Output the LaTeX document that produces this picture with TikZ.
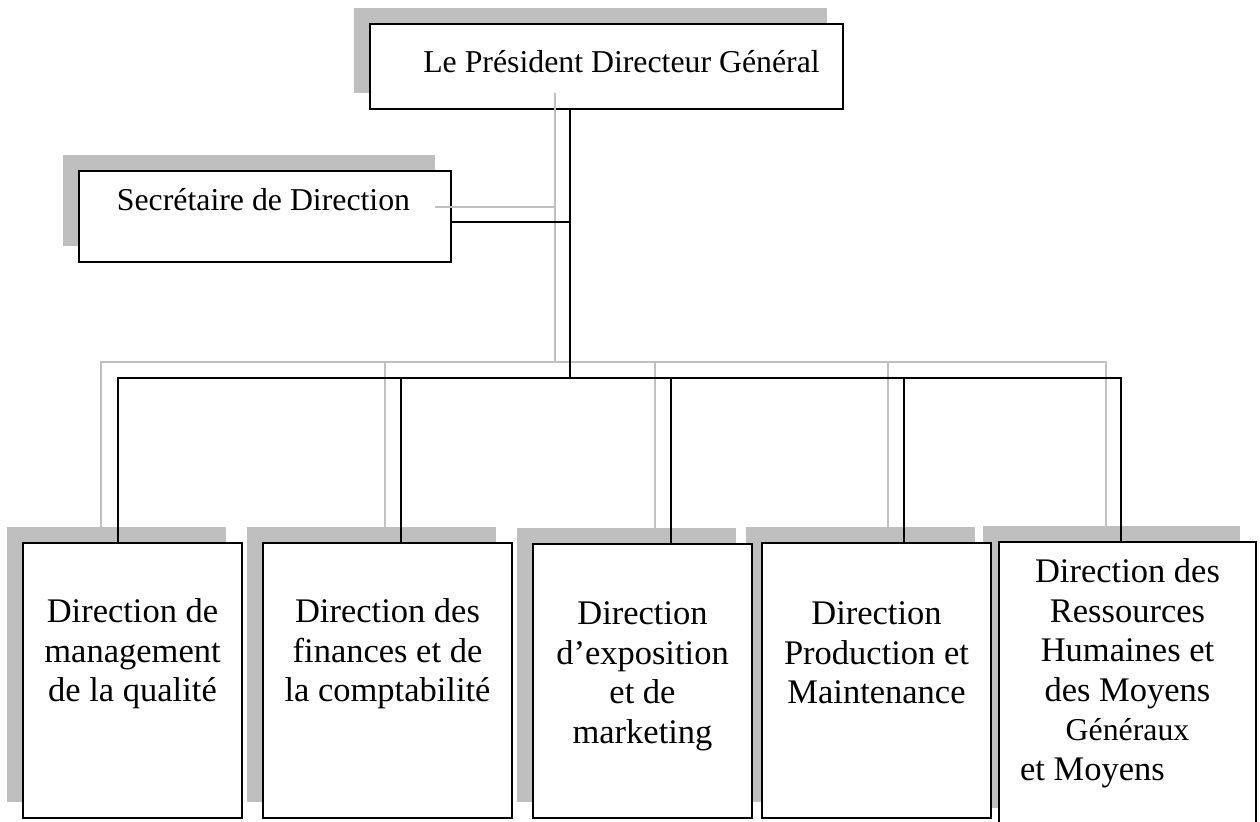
\documentclass[tikz,border=0pt]{standalone}
\usepackage{fontspec}
\setmainfont{Liberation Serif}
\definecolor{shadowgray}{HTML}{BFBFBF}
\definecolor{linegray}{HTML}{C0C0C0}
\tikzset{
  shadowbox/.style={fill=shadowgray, draw=none, inner sep=0pt, outer sep=0pt},
  orgbox/.style={fill=white, draw=black, line width=1pt, inner sep=0pt, outer sep=0pt},
  conn/.style={draw=black, line width=0.75pt},
  gconn/.style={draw=linegray, line width=0.7pt},
  boxtext/.style={anchor=base, inner sep=0pt, font=\fontsize{17.25}{19.75}\selectfont},
  headtext/.style={anchor=base, inner sep=0pt, font=\fontsize{15.9}{18}\selectfont},
}
\begin{document}
\begin{tikzpicture}[x=0.5pt, y=-0.5pt]
\useasboundingbox (0,0) rectangle (1260,822);
\clip (0,0) rectangle (1260,822);

% shadows
\node[shadowbox, minimum width=236.5pt, minimum height=42.5pt] (pdgs) at (590.5,50.5) {};
\node[shadowbox, minimum width=186pt, minimum height=45.5pt] (secs) at (249,200.5) {};
\node[shadowbox, minimum width=109.5pt, minimum height=137.5pt] (s1) at (116.5,664.5) {};
\node[shadowbox, minimum width=124.5pt, minimum height=137.5pt] (s2) at (371.5,664.5) {};
\node[shadowbox, minimum width=109.5pt, minimum height=137pt] (s3) at (626.5,665) {};
\node[shadowbox, minimum width=114.5pt, minimum height=137.5pt] (s4) at (860.5,664.5) {};
\node[shadowbox, minimum width=128.5pt, minimum height=141pt] (s5) at (1111.5,667) {};

% boxes
\node[orgbox, minimum width=236.5pt, minimum height=42.5pt] (pdg) at (606.5,66.5) {};
\node[orgbox, minimum width=186pt, minimum height=45.5pt] (sec) at (265,216.5) {};
\node[orgbox, minimum width=109.5pt, minimum height=137.5pt] (b1) at (132.5,680.5) {};
\node[orgbox, minimum width=124.5pt, minimum height=137.5pt] (b2) at (387.5,680.5) {};
\node[orgbox, minimum width=109.5pt, minimum height=137pt] (b3) at (642.5,681) {};
\node[orgbox, minimum width=114.5pt, minimum height=137.5pt] (b4) at (876.5,680.5) {};
\node[orgbox, minimum width=128.5pt, minimum height=141pt] (b5) at (1127.5,683) {};

% texts
\node[headtext] (tpdg) at (621.5,73) {Le Président Directeur Général};
\node[headtext] (tsec) at (263.5,211) {Secrétaire de Direction};
\node[boxtext] (t1) at (132.5,623) {\begin{tabular}[t]{@{}c@{}}Direction de\\management\\de la qualité\end{tabular}};
\node[boxtext] (t2) at (387.5,623) {\begin{tabular}[t]{@{}c@{}}Direction des\\finances et de\\la comptabilité\end{tabular}};
\node[boxtext] (t3) at (642.5,625) {\begin{tabular}[t]{@{}c@{}}Direction\\d’exposition\\et de\\marketing\end{tabular}};
\node[boxtext] (t4) at (876.5,625) {\begin{tabular}[t]{@{}c@{}}Direction\\Production et\\Maintenance\end{tabular}};
\node[boxtext] (t5) at (1127.5,583) {\begin{tabular}[t]{@{}c@{}}Direction des\\Ressources\\Humaines et\\des Moyens\\{\fontsize{15.9}{19.75}\selectfont Généraux}\\\multicolumn{1}{@{}l@{}}{\hspace*{-7.5pt}et Moyens}\end{tabular}};

% grey connector shadows
\coordinate (gj) at (555,362);
\coordinate (gk1) at (101,362);
\coordinate (gk2) at (385,362);
\coordinate (gk3) at (655,362);
\coordinate (gk4) at (888,362);
\coordinate (gk5) at (1106,362);
\coordinate (gse) at ([yshift=-3.25pt]secs.east);
\draw[gconn] (pdgs.south -| gj) -- (gj);
\draw[gconn] (gse) -- (gse -| gj);
\draw[gconn] (gk1 |- s1.north) -- (gk1) -- (gk5) -- (gk5 |- s5.north);
\foreach \i in {2,3,4} {\draw[gconn] (gk\i) -- (gk\i |- s\i.north);}

% black connectors
\coordinate (j) at (570,378);
\coordinate (k1) at (118,378);
\coordinate (k2) at (401,378);
\coordinate (k3) at (671,378);
\coordinate (k4) at (904,378);
\coordinate (k5) at (1121,378);
\coordinate (se) at ([yshift=-2.75pt]sec.east);
\draw[conn] (pdg.south -| j) -- (j);
\draw[conn] (se) -- (se -| j);
\draw[conn] (k1 |- b1.north) -- (k1) -- (k5) -- (k5 |- b5.north);
\foreach \i in {2,3,4} {\draw[conn] (k\i) -- (k\i |- b\i.north);}
\end{tikzpicture}
\end{document}
